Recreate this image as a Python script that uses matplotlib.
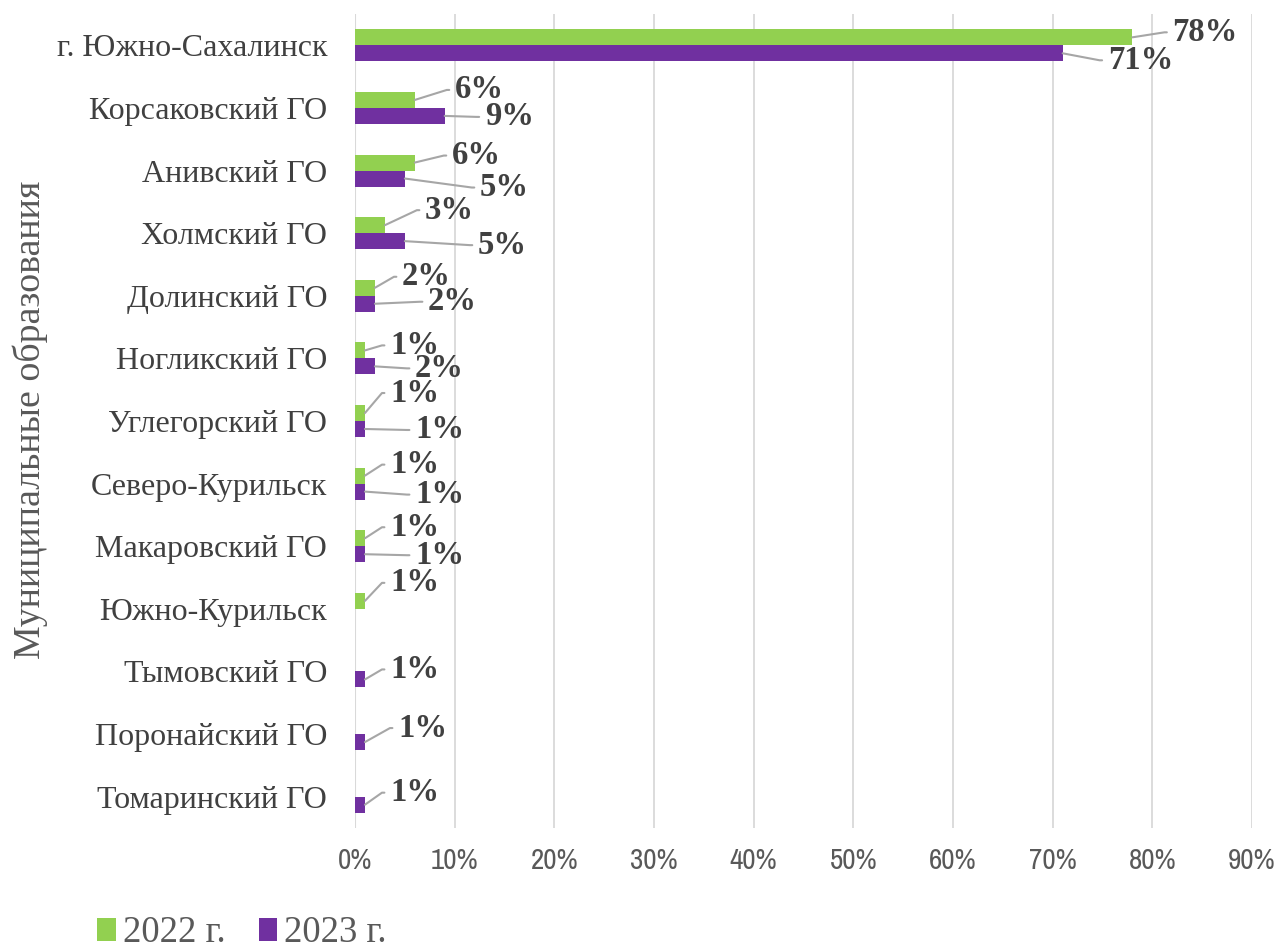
import matplotlib
matplotlib.use("Agg")
import matplotlib.pyplot as plt
from matplotlib import font_manager as fm
import numpy as np
from matplotlib.ticker import FuncFormatter

categories = ["г. Южно-Сахалинск", "Корсаковский ГО", "Анивский ГО", "Холмский ГО",
              "Долинский ГО", "Ногликский ГО", "Углегорский ГО", "Северо-Курильск",
              "Макаровский ГО", "Южно-Курильск", "Тымовский ГО", "Поронайский ГО",
              "Томаринский ГО"]
vals_2022 = [78, 6, 6, 3, 2, 1, 1, 1, 1, 1, None, None, None]
vals_2023 = [71, 9, 5, 5, 2, 2, 1, 1, 1, None, 1, 1, 1]
series_names = ["2022 г.", "2023 г."]

# label offsets (pixels) from bar end: (dx, dy)
off_2022 = [(40, 5), (40, 10), (37, 7), (40, 15), (27, 11), (25, 5), (25, 20),
            (25, 11), (25, 11), (25, 18), None, None, None]
off_2023 = [(45, -7), (40, -1), (75, -9), (73, -4), (53, 2), (40, -2), (50, -1),
            (50, -3), (50, -1), None, (25, 10), (33, 14), (25, 12)]

green = "#92D050"
purple = "#7030A0"
serif = ["Liberation Serif", "DejaVu Serif"]

# narrow sans for the x ticks if one is installed
names = sorted({f.name for f in fm.fontManager.ttflist})
narrow_name = None
if "Liberation Sans Narrow" in names:
    narrow_name = "Liberation Sans Narrow"
else:
    for n in names:
        if "Narrow" in n or "Condensed" in n:
            narrow_name = n
            break
if narrow_name:
    tick_font, tick_size = [narrow_name, "DejaVu Sans"], 21
else:
    tick_font, tick_size = ["Liberation Sans", "DejaVu Sans"], 18

fig = plt.figure(figsize=(12.82, 9.51), dpi=100)
ax = fig.add_axes([355 / 1282, 1 - 828 / 951, (1252 - 355) / 1282, (828 - 14) / 951])

y = np.arange(len(categories))
h = 0.255

def clean(v):
    return [0 if x is None else x for x in v]

ax.barh(y - h / 2, clean(vals_2022), height=h, color=green, label=series_names[0], zorder=3)
ax.barh(y + h / 2, clean(vals_2023), height=h, color=purple, label=series_names[1], zorder=3)

for vals, offs, sgn in [(vals_2022, off_2022, -1), (vals_2023, off_2023, 1)]:
    for i, v in enumerate(vals):
        if v is None:
            continue
        dx, dy = offs[i]
        ax.annotate(f"{v}%", xy=(v, i + sgn * h / 2), xytext=(dx, dy),
                    textcoords="offset pixels", ha="left", va="center",
                    fontsize=23.5, fontweight="bold", family=serif, color="#404040",
                    annotation_clip=False, zorder=5,
                    arrowprops=dict(arrowstyle="-", color="#a6a6a6", lw=1.5,
                                    shrinkA=2, shrinkB=0, relpos=(0, 0.5),
                                    connectionstyle="arc,angleA=180,armA=8,angleB=0,armB=0,rad=0"))

ax.set_xlim(0, 90)
ax.set_ylim(len(categories) - 0.5, -0.5)
ax.set_xticks(np.arange(0, 91, 10))
ax.xaxis.set_major_formatter(FuncFormatter(lambda x, p: f"{int(x)}%"))
ax.set_yticks(y)
ax.set_yticklabels(categories, family=serif, fontsize=23, color="#404040")
for lab in ax.get_xticklabels():
    lab.set_family(tick_font)
    lab.set_fontsize(tick_size)
    lab.set_fontweight("normal")
    lab.set_color("#595959")
ax.tick_params(axis="x", length=0, pad=14)
ax.tick_params(axis="y", length=0, pad=20)
ax.grid(axis="x", color="#d9d9d9", lw=1.3, zorder=0)
for s in ax.spines.values():
    s.set_visible(False)
ax.axvline(0, color="#d9d9d9", lw=1.5, zorder=1)

fig.text(30 / 1282, 1 - 420 / 951, "Муниципальные образования", rotation=90,
         ha="center", va="center", family=serif, fontsize=27.3, color="#595959")

leg = fig.legend(loc="center", bbox_to_anchor=(242 / 1282, 1 - 933 / 951), ncol=2,
                 frameon=False, prop={"family": serif, "size": 26.5},
                 handlelength=0.5, handleheight=0.6, handletextpad=0.2,
                 columnspacing=0.9, labelcolor="#595959")

fig.savefig("out.png", dpi=100)
